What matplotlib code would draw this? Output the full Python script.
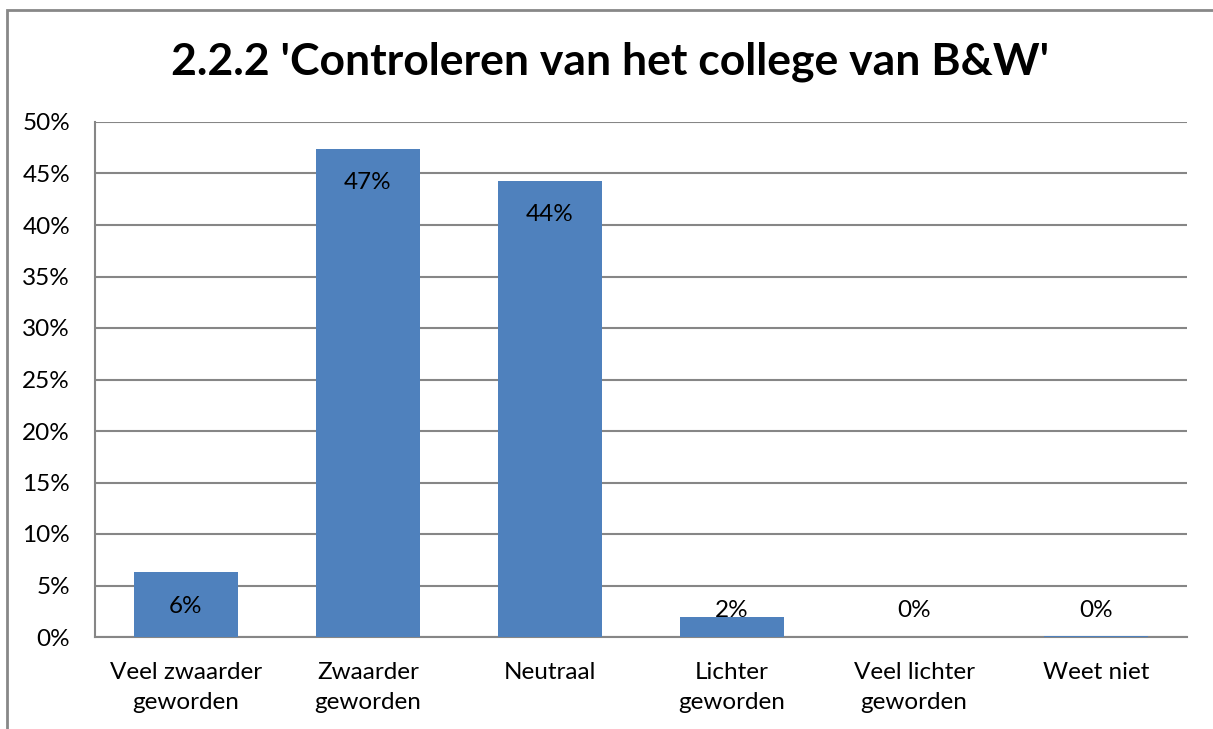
import numpy as np
import matplotlib.pyplot as plt
from matplotlib.patches import Rectangle
from matplotlib.ticker import FuncFormatter

categories = ["Veel zwaarder\ngeworden", "Zwaarder\ngeworden", "Neutraal",
              "Lichter\ngeworden", "Veel lichter\ngeworden", "Weet niet"]
values = [6.3, 47.4, 44.3, 1.9, 0.0, 0.1]
labels = ["6%", "47%", "44%", "2%", "0%", "0%"]
title = "2.2.2 'Controleren van het college van B&W'"

plt.rcParams['font.family'] = ['Lato', 'DejaVu Sans']

fig = plt.figure(figsize=(12.13, 7.29), dpi=100)
ax = fig.add_axes([95/1213, 92/729, 1092/1213, 515/729])

# outer chart border
fig.patches.append(Rectangle((7/1213, -0.1), 1.2, 1.1 - 10/729, transform=fig.transFigure,
                             fill=False, edgecolor='#888888', linewidth=2))

x = np.arange(len(categories))
ax.bar(x, values, width=0.57, color='#4F81BD', zorder=3)

for xi, v, lab in zip(x, values, labels):
    ax.text(xi, max(v - 3.3, 2.6), lab, ha='center', va='center', fontsize=17.5, zorder=4)

ax.set_xlim(-0.5, len(categories) - 0.5)
ax.set_ylim(0, 50)
ax.set_yticks(np.arange(0, 51, 5))
ax.yaxis.set_major_formatter(FuncFormatter(lambda v, p: f"{v:.0f}%"))
ax.set_xticks(x)
ax.set_xticklabels(categories, fontsize=17.5, linespacing=1.55)
ax.tick_params(axis='y', labelsize=17.5, length=0, pad=18)
ax.tick_params(axis='x', length=0, pad=18)
ax.grid(axis='y', color='#868686', linewidth=1.5, zorder=0)
for s in ['top', 'right']:
    ax.spines[s].set_visible(False)
for s in ['left', 'bottom']:
    ax.spines[s].set_color('#868686')
    ax.spines[s].set_linewidth(1.5)

fig.text(0.503, 1 - 62/729, title, ha='center', va='center', fontsize=32, fontweight='bold')

fig.savefig('out.png', dpi=100)
